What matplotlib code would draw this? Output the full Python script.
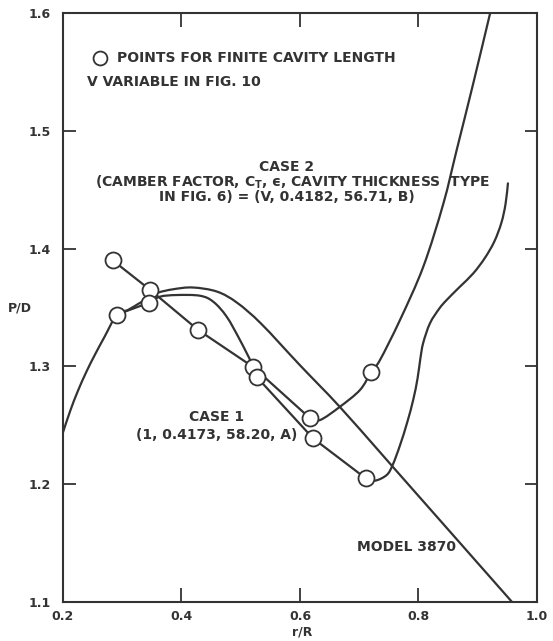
import matplotlib
matplotlib.use("Agg")
import numpy as np
import matplotlib.pyplot as plt
from matplotlib.lines import Line2D
from matplotlib.path import Path
from matplotlib.patches import PathPatch

plt.rcParams['font.family'] = ['DejaVu Sans']
plt.rcParams['mathtext.fontset'] = 'dejavusans'

INK = '#333333'

# ---- data ----
# Model 3870 pitch distribution (smooth curve)
model_x = [0.200, 0.212, 0.225, 0.240, 0.255, 0.270, 0.291, 0.310, 0.330, 0.345,
           0.360, 0.386, 0.419, 0.460, 0.494, 0.535, 0.600, 0.6675, 0.757, 0.958]
model_y = [1.244, 1.262, 1.279, 1.296, 1.311, 1.325, 1.344, 1.348, 1.354, 1.358,
           1.3625, 1.3655, 1.367, 1.3635, 1.354, 1.336, 1.301, 1.2655, 1.2146, 1.100]

# Finite-cavity points, set A (joined by straight segments up to r/R = 0.617)
caseA_pts_x = [0.284, 0.347, 0.428, 0.521, 0.617, 0.720]
caseA_pts_y = [1.390, 1.365, 1.331, 1.2995, 1.256, 1.295]
# smooth continuation of set A towards the tip
caseA_tail_x = [0.617, 0.634, 0.6675, 0.7013, 0.720, 0.735, 0.7688, 0.8081,
                0.8419, 0.8645, 0.8925, 0.921]
caseA_tail_y = [1.256, 1.2545, 1.2658, 1.280, 1.295, 1.3054, 1.3394, 1.3846,
                1.438, 1.4837, 1.5403, 1.600]

# Finite-cavity points, set B
caseB_pts_x = [0.291, 0.345, 0.527, 0.622, 0.711]
caseB_pts_y = [1.344, 1.354, 1.291, 1.239, 1.205]
# smooth hump of set B between r/R = 0.345 and 0.527
caseB_mid_x = [0.345, 0.3637, 0.392, 0.4312, 0.4537, 0.4763, 0.4987, 0.5185, 0.527]
caseB_mid_y = [1.354, 1.3592, 1.3606, 1.360, 1.3549, 1.3422, 1.3224, 1.3026, 1.291]
# S-shaped tip of set B
caseB_tail_x = [0.711, 0.7266, 0.7463, 0.7564, 0.7688, 0.7810, 0.7913, 0.7985,
                0.8030, 0.8080, 0.8194, 0.8350, 0.8476, 0.870, 0.8925, 0.912,
                0.928, 0.940, 0.947, 0.951]
caseB_tail_y = [1.205, 1.203, 1.2078, 1.2163, 1.2330, 1.2525, 1.2720, 1.2900,
                1.3060, 1.3200, 1.3366, 1.3490, 1.3564, 1.3677, 1.379, 1.392,
                1.406, 1.422, 1.438, 1.4554]

x_ticks = [0.2, 0.4, 0.6, 0.8, 1.0]
x_ticklabels = ['0.2', '0.4', '0.6', '0.8', '1.0']
y_ticks = [1.1, 1.2, 1.3, 1.4, 1.5, 1.6]
y_ticklabels = ['1.1', '1.2', '1.3', '1.4', '1.5', '1.6']


def smooth_path(xs, ys):
    """Cubic Bezier (Catmull-Rom) path through the read points."""
    p = np.column_stack([xs, ys]).astype(float)
    n = len(p)
    verts = [p[0]]
    codes = [Path.MOVETO]
    for i in range(n - 1):
        p0 = p[i - 1] if i > 0 else p[i]
        p1, p2 = p[i], p[i + 1]
        p3 = p[i + 2] if i + 2 < n else p[i + 1]
        verts += [p1 + (p2 - p0) / 6.0, p2 - (p3 - p1) / 6.0, p2]
        codes += [Path.CURVE4] * 3
    return Path(verts, codes)


# ---- figure ----
fig = plt.figure(figsize=(5.53, 6.41), dpi=100)
ax = fig.add_axes([0.1139, 0.0608, 0.8571, 0.9189])

lw = 1.6
for xs, ys in [(model_x, model_y), (caseA_tail_x, caseA_tail_y),
               (caseB_mid_x, caseB_mid_y), (caseB_tail_x, caseB_tail_y)]:
    ax.add_patch(PathPatch(smooth_path(xs, ys), fill=False, edgecolor=INK,
                           lw=lw, zorder=2, capstyle='round', joinstyle='round'))
ax.plot(caseA_pts_x[:5], caseA_pts_y[:5], color=INK, lw=lw, zorder=2)
ax.plot(caseB_pts_x[:2], caseB_pts_y[:2], color=INK, lw=lw, zorder=2)
ax.plot(caseB_pts_x[2:], caseB_pts_y[2:], color=INK, lw=lw, zorder=2)

mk = dict(ls='none', marker='o', ms=11.5, mfc='white', mec=INK, mew=1.3, zorder=3)
ax.plot(caseA_pts_x, caseA_pts_y, **mk)
ax.plot(caseB_pts_x, caseB_pts_y, **mk)

ax.set_xlim(0.2, 1.0)
ax.set_ylim(1.1, 1.6)
ax.set_xticks(x_ticks)
ax.set_xticklabels(x_ticklabels)
ax.set_yticks(y_ticks)
ax.set_yticklabels(y_ticklabels)
ax.tick_params(axis='x', direction='in', length=10, width=1.3, top=True,
               colors=INK, labelsize=9, pad=6)
ax.tick_params(axis='y', direction='in', length=9, width=1.3, right=True,
               colors=INK, labelsize=9, pad=9)
for lab in ax.get_xticklabels() + ax.get_yticklabels():
    lab.set_fontweight('bold')
for s in ax.spines.values():
    s.set_linewidth(1.5)
    s.set_color(INK)

lkw = dict(transform=ax.transAxes, color=INK, fontsize=9, fontweight='bold')
ax.text(0.504, -0.051, 'r/R', ha='center', va='center', **lkw)
ax.text(-0.092, 0.499, 'P/D', ha='center', va='center', **lkw)

tkw = dict(transform=ax.transAxes, color=INK, fontsize=10, fontweight='bold')
# note with open-circle symbol
ax.add_line(Line2D([0.078], [0.9236], transform=ax.transAxes, marker='o', ms=10,
                   mfc='white', mec=INK, mew=1.3, ls='none'))
ax.text(0.114, 0.9236, 'POINTS FOR FINITE CAVITY LENGTH', ha='left', va='center', **tkw)
ax.text(0.0506, 0.8829, 'V VARIABLE IN FIG. 10', ha='left', va='center', **tkw)

ax.text(0.4726, 0.7385, 'CASE 2', ha='center', va='center', **tkw)
ax.text(0.485, 0.713,
        '(CAMBER FACTOR, C$_{\\mathbf{T}}$, \u03f5, CAVITY THICKNESS  TYPE',
        ha='center', va='center', **tkw)
ax.text(0.4726, 0.6876, 'IN FIG. 6) = (V, 0.4182, 56.71, B)', ha='center', va='center', **tkw)

ax.text(0.325, 0.314, 'CASE 1', ha='center', va='center', **tkw)
ax.text(0.325, 0.2835, '(1, 0.4173, 58.20, A)', ha='center', va='center', **tkw)
ax.text(0.7257, 0.0934, 'MODEL 3870', ha='center', va='center', **tkw)

fig.savefig('out.png', dpi=100)
